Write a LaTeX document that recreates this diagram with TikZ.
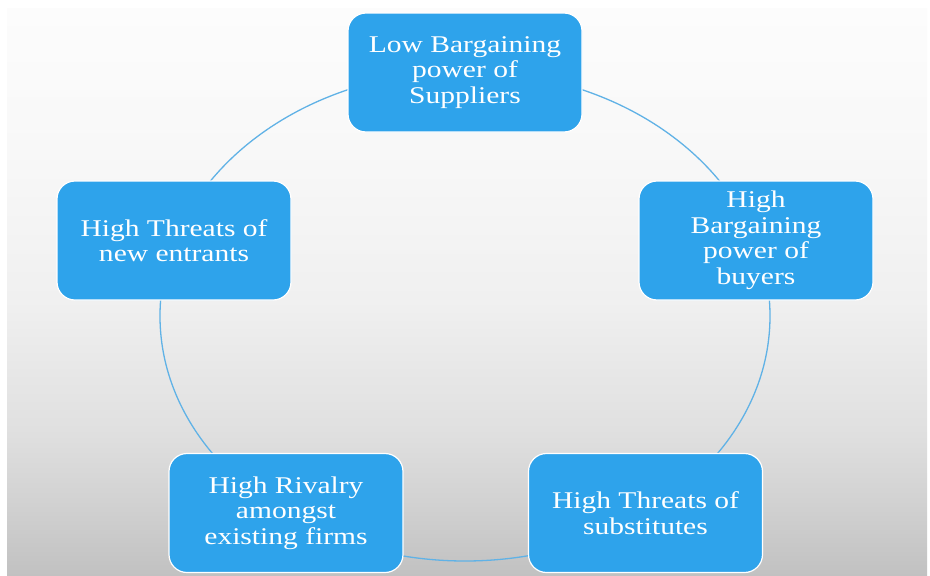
\documentclass[tikz,border=0pt]{standalone}
\usepackage{fontspec}
\setmainfont{Liberation Serif}[FakeStretch=1.23]
\definecolor{boxblue}{RGB}{46,163,235}
\definecolor{ringblue}{RGB}{96,178,230}
\definecolor{bgA}{RGB}{252,252,252}
\definecolor{bgB}{RGB}{248,248,248}
\definecolor{bgC}{RGB}{240,240,240}
\definecolor{bgD}{RGB}{224,224,224}
\definecolor{bgE}{RGB}{210,210,210}
\definecolor{bgF}{RGB}{193,193,193}
% page background: light at the top, grey towards the bottom
\pgfdeclareverticalshading{pagebg}{100bp}{%
  color(0bp)=(bgF); color(25bp)=(bgF); color(31.7bp)=(bgE);
  color(37.9bp)=(bgD); color(49.3bp)=(bgC); color(62.5bp)=(bgB);
  color(75bp)=(bgA); color(100bp)=(bgA)}
\tikzset{
  forcebox/.style={rectangle, rounded corners=18pt, fill=boxblue, draw=white,
    line width=1.2pt, minimum width=234pt, minimum height=119pt, inner sep=0pt,
    align=center, text=white, font=\fontsize{24}{25.5}\selectfont},
  ring/.style={draw=ringblue, line width=1.3pt}
}
\begin{document}
\begin{tikzpicture}[x=1pt,y=-1pt]
  \useasboundingbox (0,0) rectangle (930,576);
  \fill[white] (0,0) rectangle (930,576);
  \shade[shading=pagebg] (7,8) rectangle (927,576);

  % the cycle that joins the five forces
  \coordinate (hub) at (465,316);
  \draw[ring] (hub) ellipse [x radius=305pt, y radius=245pt];

  \node[forcebox] (suppliers) at (465,72.5)  {Low Bargaining\\power of\\Suppliers};
  \node[forcebox] (buyers)    at (756,240.5) {High\\Bargaining\\power of\\buyers};
  \node[forcebox] (subst)     at (645.5,513) {High Threats of\\substitutes};
  \node[forcebox] (rivalry)   at (286,513)   {High Rivalry\\amongst\\existing firms};
  \node[forcebox] (entrants)  at (174,240.5) {High Threats of\\new entrants};
\end{tikzpicture}
\end{document}
